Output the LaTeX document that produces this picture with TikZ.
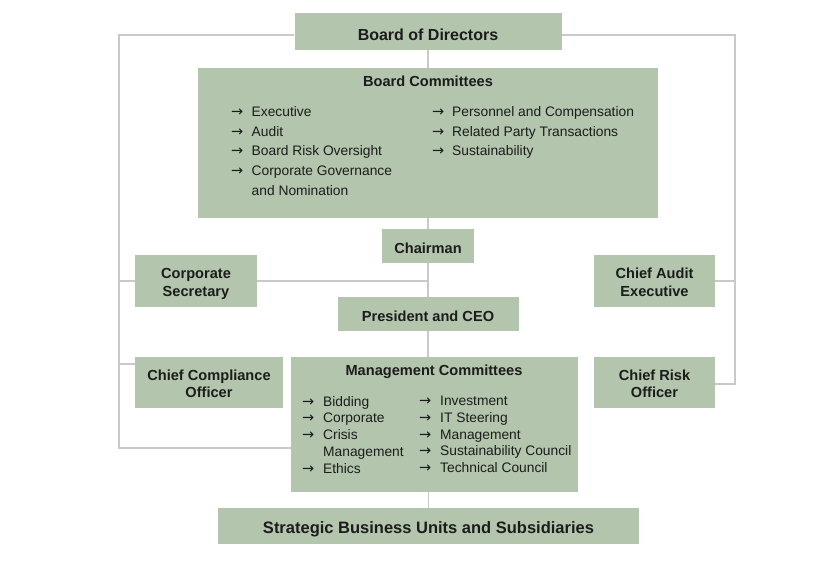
\documentclass[tikz,border=0pt]{standalone}
\usepackage{fontspec}
\setmainfont{Liberation Sans}
\newfontfamily\arrowfont{DejaVu Sans}
\definecolor{sage}{HTML}{B3C5AC}
\definecolor{linegray}{HTML}{C9C9C9}
\definecolor{ink}{HTML}{1C1C1C}

\newlength{\arrw}
\newcommand{\itm}[1]{\makebox[\arrw][l]{\arrowfont\fontsize{14.5}{14.5}\selectfont →}#1}
\newcommand{\cont}[1]{\hspace*{\arrw}#1}

\begin{document}
\begin{tikzpicture}[x=1pt,y=-1pt,
  box/.style={fill=sage,inner sep=0pt,align=center,text=ink,
    font=\bfseries\fontsize{14.6}{17.5}\selectfont,
    execute at begin node={\rule{0pt}{1.08em}}},
  twoline/.style={text height=30pt,text depth=0pt},
  wire/.style={draw=linegray,line width=1.6pt},
  list/.style={anchor=north west,inner sep=0pt,align=left,text=ink,
    execute at begin node={\setlength{\arrw}{#1}}}]
\useasboundingbox (0,0) rectangle (840,560);

\node[box,minimum width=267pt,minimum height=37pt,
  font=\bfseries\fontsize{16}{19}\selectfont] (bod) at (428,31.5) {Board of Directors};
\node[box,minimum width=460pt,minimum height=150pt] (bc) at (428,143) {};
\node[text=ink,inner sep=0pt,font=\bfseries\fontsize{14.6}{17.5}\selectfont] (bctitle) at (428,81) {Board Committees};
\node[list=20.5pt,font=\fontsize{13.8}{19.8}\selectfont] (bcleft) at (231,106)
  {\itm{Executive}\\ \itm{Audit}\\ \itm{Board Risk Oversight}\\
   \itm{Corporate Governance}\\ \cont{and Nomination}};
\node[list=20pt,font=\fontsize{13.8}{19.8}\selectfont] (bcright) at (432,106)
  {\itm{Personnel and Compensation}\\ \itm{Related Party Transactions}\\
   \itm{Sustainability}};

\node[box,minimum width=92pt,minimum height=34pt] (chair) at (428,246) {Chairman};
\node[box,twoline,minimum width=122pt,minimum height=52pt] (corpsec) at (196,281) {Corporate\\Secretary};
\node[box,twoline,minimum width=121pt,minimum height=52pt] (cae) at (654.5,281) {Chief Audit\\Executive};
\node[box,minimum width=181pt,minimum height=34pt] (pres) at (428,314) {President and CEO};
\node[box,twoline,minimum width=148pt,minimum height=51pt] (cco) at (209,382.5) {Chief Compliance\\Officer};
\node[box,twoline,minimum width=121pt,minimum height=51pt] (cro) at (654.5,382.5) {Chief Risk\\Officer};

\node[box,minimum width=287pt,minimum height=135pt] (mc) at (434.5,424.5) {};
\node[text=ink,inner sep=0pt,font=\bfseries\fontsize{14.6}{17.5}\selectfont] (mctitle) at (434,372) {Management Committees};
\node[list=21pt,font=\fontsize{13.8}{16.75}\selectfont] (mcleft) at (302,396)
  {\itm{Bidding}\\ \itm{Corporate}\\ \itm{Crisis}\\ \cont{Management}\\ \itm{Ethics}};
\node[list=21pt,font=\fontsize{13.8}{16.75}\selectfont] (mcright) at (419,396)
  {\itm{Investment}\\ \itm{IT Steering}\\ \itm{Management}\\
   \itm{Sustainability Council}\\ \itm{Technical Council}};

\node[box,minimum width=421pt,minimum height=36pt,
  font=\bfseries\fontsize{16.5}{19}\selectfont] (sbu) at (428.5,526) {Strategic Business Units and Subsidiaries};

\coordinate (ltop) at (119,35);
\coordinate (lbot) at (119,448);
\coordinate (rtop) at (735,35);
\coordinate (rbot) at (735,384);
\coordinate (ccoin) at (135,364);

\foreach \a/\b in {bod/bc, bc/chair, chair/pres}
  \draw[wire] (\a.south) -- (\b.north);
\draw[wire] (pres.south) -- (pres.south |- mc.north);
\draw[wire] (sbu.north) -- (sbu.north |- mc.south);
\draw[wire] (corpsec.east) -- (corpsec.east -| chair.south);

% outer reporting lines
\draw[wire] (ltop -| bod.west) -- (ltop) -- (lbot) -- (lbot -| mc.west);
\draw[wire] (rtop -| bod.east) -- (rtop) -- (rbot) -- (rbot -| cro.east);
\foreach \a/\b in {corpsec.west/ltop, ccoin/ltop, cae.east/rtop}
  \draw[wire] (\a) -- (\a -| \b);

\end{tikzpicture}
\end{document}
